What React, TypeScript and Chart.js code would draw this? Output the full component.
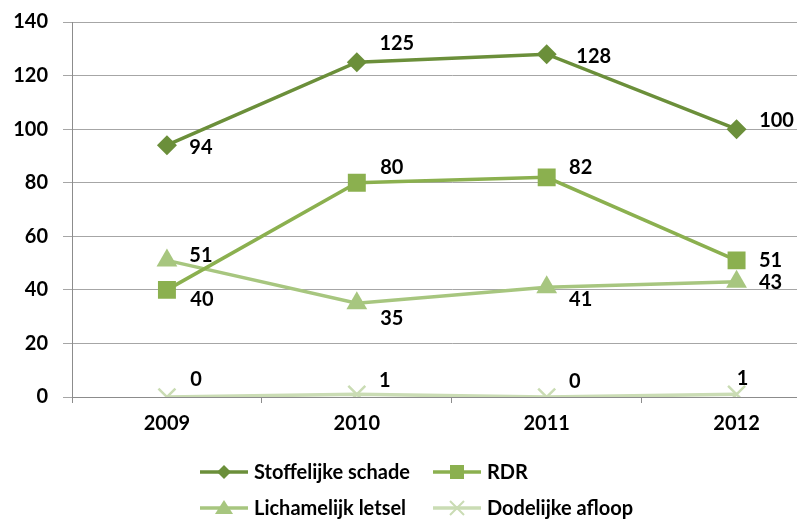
import React, { useEffect, useRef } from "react";
import { Chart, registerables } from "chart.js";

Chart.register(...registerables);

const years = ["2009", "2010", "2011", "2012"];
const stoffelijkeSchade = [94, 125, 128, 100];
const rdr = [40, 80, 82, 51];
const lichamelijkLetsel = [51, 35, 41, 43];
const dodelijkeAfloop = [0, 1, 0, 1];
const seriesNames = ["Stoffelijke schade", "RDR", "Lichamelijk letsel", "Dodelijke afloop"];
const yMin = 0;
const yMax = 140;
const yStep = 20;

const colors = ["#6b8f3a", "#8bb04f", "#a7c67f", "#cadcb4"];
const FONT = "Lato, 'Open Sans', sans-serif";

// label placement (pixel offsets from each point), per series
const labelOffsets = [
  [[34, 2], [40, -19], [47, 2], [40, -9]],
  [[35, 10], [35, -15], [34, -10], [34, 0]],
  [[34, -5], [35, 15], [34, 12], [34, 1]],
  [[29, -17], [28, -14], [28, -15], [6, -16]],
];

const valueLabels = {
  id: "valueLabels",
  afterDatasetsDraw(chart: any) {
    const ctx = chart.ctx;
    ctx.save();
    ctx.font = `bold 20px ${FONT}`;
    ctx.fillStyle = "#000";
    ctx.textAlign = "center";
    ctx.textBaseline = "middle";
    chart.data.datasets.forEach((ds: any, di: number) => {
      const meta = chart.getDatasetMeta(di);
      meta.data.forEach((pt: any, i: number) => {
        const off = labelOffsets[di][i];
        ctx.fillText(String(ds.data[i]), pt.x + off[0], pt.y + off[1]);
      });
    });
    ctx.restore();
  },
};

const legendCols = [200, 433];
const legendRows = [472, 508];

const customLegend = {
  id: "customLegend",
  afterDraw(chart: any) {
    const ctx = chart.ctx;
    ctx.save();
    chart.data.datasets.forEach((ds: any, i: number) => {
      const x = legendCols[i % 2];
      const y = legendRows[Math.floor(i / 2)];
      ctx.strokeStyle = ds.borderColor;
      ctx.lineWidth = 3.5;
      ctx.beginPath();
      ctx.moveTo(x, y);
      ctx.lineTo(x + 48, y);
      ctx.stroke();
      const cx = x + 24;
      ctx.fillStyle = ds.borderColor;
      ctx.strokeStyle = ds.borderColor;
      ctx.beginPath();
      if (i === 0) {
        ctx.moveTo(cx - 7, y);
        ctx.lineTo(cx, y - 7);
        ctx.lineTo(cx + 7, y);
        ctx.lineTo(cx, y + 7);
        ctx.closePath();
        ctx.fill();
      } else if (i === 1) {
        ctx.rect(cx - 7, y - 7, 14, 14);
        ctx.fill();
      } else if (i === 2) {
        ctx.moveTo(cx, y - 8);
        ctx.lineTo(cx + 9, y + 6);
        ctx.lineTo(cx - 9, y + 6);
        ctx.closePath();
        ctx.fill();
      } else {
        ctx.lineWidth = 2;
        ctx.moveTo(cx - 7, y - 7);
        ctx.lineTo(cx + 7, y + 7);
        ctx.moveTo(cx + 7, y - 7);
        ctx.lineTo(cx - 7, y + 7);
        ctx.stroke();
      }
      ctx.fillStyle = "#000";
      ctx.font = `bold 20px ${FONT}`;
      ctx.textAlign = "left";
      ctx.textBaseline = "middle";
      ctx.fillText(ds.label, x + 54, y + 1);
    });
    ctx.restore();
  },
};

export default function App() {
  const ref = useRef<HTMLCanvasElement>(null);
  useEffect(() => {
    if (!ref.current) return;
    const seriesData = [stoffelijkeSchade, rdr, lichamelijkLetsel, dodelijkeAfloop];
    const styles = [
      { pointStyle: "rectRot", pointRadius: 10, pointBorderWidth: 0 },
      { pointStyle: "rect", pointRadius: 12.7, pointBorderWidth: 0 },
      { pointStyle: "triangle", pointRadius: 12, pointBorderWidth: 0 },
      { pointStyle: "crossRot", pointRadius: 12, pointBorderWidth: 2.5 },
    ];
    const chart = new Chart(ref.current, {
      type: "line",
      data: {
        labels: years,
        datasets: seriesData.map((d, i) => ({
          label: seriesNames[i],
          data: d,
          borderColor: colors[i],
          backgroundColor: colors[i],
          pointBackgroundColor: colors[i],
          pointBorderColor: colors[i],
          borderWidth: 3.5,
          tension: 0,
          ...styles[i],
        })),
      },
      options: {
        animation: false,
        responsive: false,
        devicePixelRatio: 1,
        layout: { padding: { left: 0, top: 22, right: 8, bottom: 0 } },
        plugins: {
          legend: { display: false },
          tooltip: { enabled: false },
        },
        scales: {
          x: {
            offset: true,
            grid: {
              display: true,
              drawOnChartArea: false,
              offset: true,
              tickLength: 6,
              color: "#8c8c8c",
            },
            border: { display: true, color: "#8c8c8c" },
            ticks: {
              color: "#000",
              font: { family: FONT, size: 20, weight: "bold" },
              padding: 9,
            },
            afterFit: (s: any) => {
              s.height = 122;
            },
          },
          y: {
            min: yMin,
            max: yMax,
            grid: { color: "#a6a6a6", tickLength: 9, drawTicks: true },
            border: { display: true, color: "#8c8c8c" },
            ticks: {
              stepSize: yStep,
              color: "#000",
              font: { family: FONT, size: 20, weight: "bold" },
              padding: 15,
            },
            afterFit: (s: any) => {
              s.width = 72;
              s.paddingTop = 0;
              s.paddingBottom = 0;
            },
          },
        },
      },
      plugins: [valueLabels, customLegend],
    } as any);
    return () => chart.destroy();
  }, []);
  return (
    <div
      style={{
        position: "absolute",
        left: 0,
        top: 0,
        width: 797,
        height: 519,
        overflow: "hidden",
        background: "#fff",
      }}
    >
      <canvas ref={ref} width={846} height={519} style={{ display: "block" }} />
    </div>
  );
}
